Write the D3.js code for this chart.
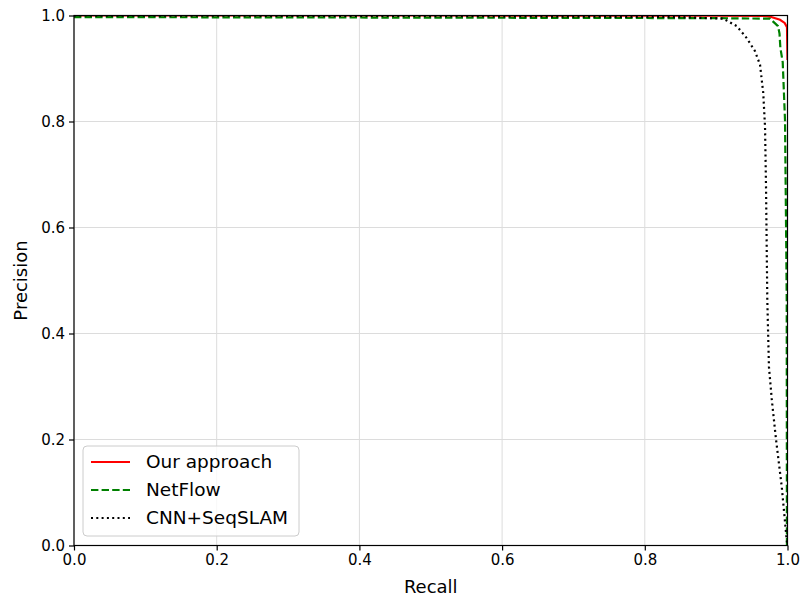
<!DOCTYPE html>
<html>
<head>
<meta charset="utf-8">
<script src="https://cdn.jsdelivr.net/npm/d3@7"></script>
<style>
  body { margin: 0; background: #fff; }
  text { font-family: "DejaVu Sans", sans-serif; }
</style>
</head>
<body>
<div id="chart"></div>
<script>
// precision / recall curves
const seriesNames = ["Our approach", "NetFlow", "CNN+SeqSLAM"];

const oursRecall    = [0, 0.5, 0.9, 0.97, 0.975, 0.9895, 0.996, 0.9993, 1.0];
const oursPrecision = [1.0, 1.0, 0.9995, 0.999, 0.998, 0.992, 0.986, 0.978, 0.916];

const netflowRecall    = [0, 0.5, 0.9, 0.9755, 0.9867, 0.9888, 0.990, 0.9933, 0.9965, 0.9975, 0.9989, 0.9992];
const netflowPrecision = [0.997, 0.996, 0.995, 0.994, 0.98, 0.966, 0.939, 0.912, 0.803, 0.671, 0.463, 0.0];

const cnnRecall    = [0, 0.5, 0.85, 0.91, 0.9288, 0.9428, 0.9545, 0.9615, 0.966, 0.9685, 0.9699, 0.9717, 0.974, 0.978, 0.984, 0.992, 0.9989, 1.0];
const cnnPrecision = [1.0, 0.999, 0.997, 0.994, 0.98, 0.9575, 0.9325, 0.907, 0.854, 0.79, 0.676, 0.463, 0.337, 0.275, 0.199, 0.11, 0.01, 0.0];

const xTicks = [0, 0.2, 0.4, 0.6, 0.8, 1.0];
const yTicks = [0, 0.2, 0.4, 0.6, 0.8, 1.0];

const colors = ["#ff0000", "#008000", "#000000"];
const dashes = [null, "7.4,3.2", "2,3.3"];

const width = 802, height = 602;
const margin = {top: 15.5, right: 14.5, bottom: 56.5, left: 74};
const w = width - margin.left - margin.right;
const h = height - margin.top - margin.bottom;

const svg = d3.select("#chart").append("svg")
    .attr("width", width)
    .attr("height", height);

const g = svg.append("g")
    .attr("transform", `translate(${margin.left},${margin.top})`);

const x = d3.scaleLinear().domain([0, 1]).range([0, w]);
const y = d3.scaleLinear().domain([0, 1]).range([h, 0]);

// grid
g.append("g")
    .selectAll("line.gx")
    .data(xTicks)
    .enter()
    .append("line")
    .attr("x1", d => x(d)).attr("x2", d => x(d))
    .attr("y1", 0).attr("y2", h)
    .attr("stroke", "#dcdcdc").attr("stroke-width", 1);

g.append("g")
    .selectAll("line.gy")
    .data(yTicks)
    .enter()
    .append("line")
    .attr("y1", d => y(d)).attr("y2", d => y(d))
    .attr("x1", 0).attr("x2", w)
    .attr("stroke", "#dcdcdc").attr("stroke-width", 1);

svg.append("defs").append("clipPath").attr("id", "clip")
    .append("rect").attr("width", w).attr("height", h);

const series = [
    oursRecall.map((r, i) => [r, oursPrecision[i]]),
    netflowRecall.map((r, i) => [r, netflowPrecision[i]]),
    cnnRecall.map((r, i) => [r, cnnPrecision[i]])
];

const line = d3.line().x(d => x(d[0])).y(d => y(d[1]));

g.append("g")
    .attr("clip-path", "url(#clip)")
    .selectAll("path")
    .data(series)
    .enter()
    .append("path")
    .attr("d", line)
    .attr("fill", "none")
    .attr("stroke", (d, i) => colors[i])
    .attr("stroke-width", 2.2)
    .attr("stroke-dasharray", (d, i) => dashes[i]);

// axes
const xAxis = g.append("g")
    .attr("transform", `translate(0,${h})`)
    .call(d3.axisBottom(x).tickValues(xTicks).tickFormat(d3.format(".1f")).tickSizeOuter(0).tickSize(5).tickPadding(4));

const yAxis = g.append("g")
    .call(d3.axisLeft(y).tickValues(yTicks).tickFormat(d3.format(".1f")).tickSizeOuter(0).tickSize(5).tickPadding(4));

[xAxis, yAxis].forEach(a => {
    a.select(".domain").remove();
    a.selectAll("text").attr("font-size", 15).attr("fill", "#000")
        .style("font-family", "DejaVu Sans, sans-serif");
    a.selectAll("line").attr("stroke", "#000").attr("stroke-width", 1.2);
});

// frame
g.append("rect")
    .attr("width", w).attr("height", h)
    .attr("fill", "none").attr("stroke", "#000").attr("stroke-width", 1.2);

svg.append("text")
    .attr("x", margin.left + w / 2)
    .attr("y", 593)
    .attr("text-anchor", "middle")
    .attr("font-size", 18)
    .text("Recall");

svg.append("text")
    .attr("transform", `translate(27,${margin.top + h / 2}) rotate(-90)`)
    .attr("text-anchor", "middle")
    .attr("font-size", 18)
    .text("Precision");

// legend
const legend = g.append("g").attr("transform", "translate(9,430.5)");

legend.append("rect")
    .attr("width", 216).attr("height", 90)
    .attr("rx", 4).attr("ry", 4)
    .attr("fill", "#fff").attr("fill-opacity", 0.8)
    .attr("stroke", "#cccccc").attr("stroke-width", 1);

const items = legend.selectAll("g.item")
    .data(seriesNames)
    .enter()
    .append("g")
    .attr("transform", (d, i) => `translate(0,${16 + i * 28})`);

items.append("line")
    .attr("x1", 8).attr("x2", 47)
    .attr("stroke", (d, i) => colors[i])
    .attr("stroke-width", 2.2)
    .attr("stroke-dasharray", (d, i) => dashes[i]);

items.append("text")
    .attr("x", 63)
    .attr("dy", "0.35em")
    .attr("font-size", 18.5)
    .text(d => d);
</script>
</body>
</html>
